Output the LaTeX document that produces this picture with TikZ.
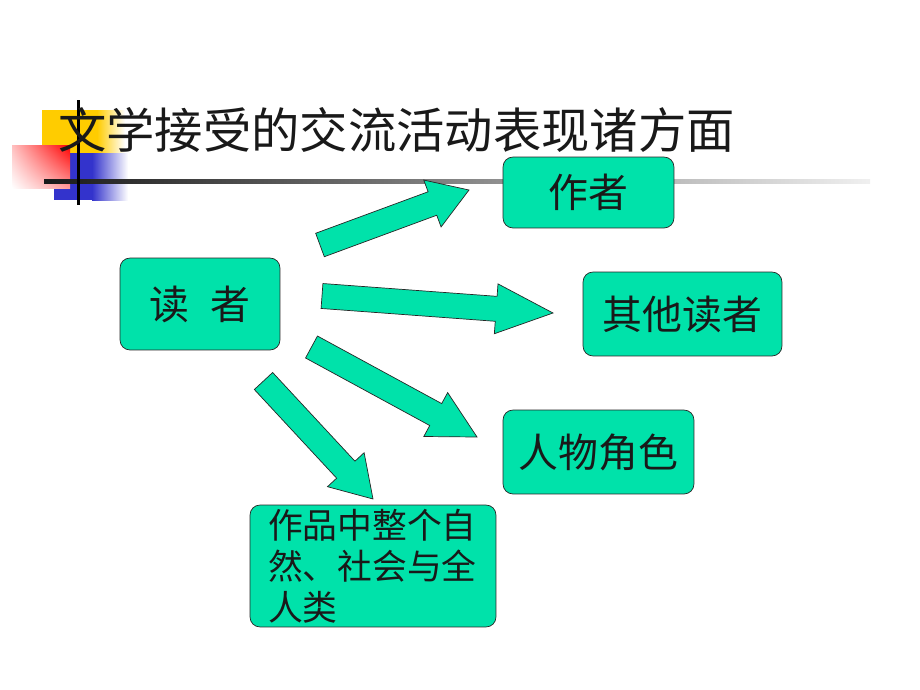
\documentclass[tikz,border=0pt]{standalone}
\usepackage{xcolor}
\definecolor{topicgreen}{RGB}{0,226,170}
\definecolor{deckyellow}{RGB}{255,204,0}
\definecolor{deckred}{RGB}{255,0,0}
\definecolor{deckblue}{RGB}{51,51,204}
\usepackage{fontspec}
\newfontfamily\cjk{Noto Sans CJK SC}
\usepackage{tikz}
\usetikzlibrary{calc}
\usetikzlibrary{shadings}
\newcommand{\shafthalf}{0.25cm}
\newcommand{\headhalf}{0.5cm}
\newcommand{\fatarrow}[3]{%
    \coordinate (hb) at ($(#2)!#3!(#1)$);
    \draw[fat] ($(#1)!\shafthalf!90:(#2)$) -- ($(hb)!\shafthalf!90:(#2)$) -- ($(hb)!\headhalf!90:(#2)$)
        -- (#2) -- ($(hb)!\headhalf!-90:(#2)$) -- ($(hb)!\shafthalf!-90:(#2)$) -- ($(#1)!\shafthalf!-90:(#2)$) -- cycle;
}
\tikzset{
    common/.style={draw=black!85, fill=topicgreen, rounded corners=0.2cm, inner sep=0pt, text=black!90,
        font=\cjk\fontsize{22.7}{27}\selectfont},
    fat/.style={draw=black!85, fill=topicgreen, thin, line join=miter}
}
\begin{document}
\begin{tikzpicture}[x=0.02cm, y=-0.02cm]
    \useasboundingbox (0,0) rectangle (920,690);
    % slide decoration
    \fill[deckyellow] (42,110) rectangle (97,153);
    \shade[left color=deckyellow, right color=white] (97,110) rectangle (125,153);
    \fill[deckblue] (54,153) rectangle (92,200);
    \shade[left color=deckblue, right color=white] (92,153) rectangle (128,200);
    \shade[upper right=deckred, upper left=deckred!25, lower right=deckred!40, lower left=white] (12,145) rectangle (70,188);
    \shade[left color=black!90, middle color=black!30, right color=black!6] (44,179) rectangle (870,183);
    \draw[line width=0.06cm] (78,100) -- (78,205);
    \node[anchor=west, inner sep=0pt, text=black!90, font=\cjk\fontsize{27.5}{33}\selectfont] (title) at (58,130) {文学接受的交流活动表现诸方面};

    \node[common, minimum width=3.2cm, minimum height=1.84cm] (reader) at (200,304) {读\hspace{0.44cm}者};
    \node[common, minimum width=3.42cm, minimum height=1.42cm] (author) at (588.5,192.5) {作者};
    \node[common, minimum width=3.98cm, minimum height=1.68cm] (others) at (682.5,314) {其他读者};
    \node[common, minimum width=3.82cm, minimum height=1.68cm] (roles) at (598.5,452) {人物角色};
    \node[common, minimum width=4.92cm, minimum height=2.44cm, text width=4.2cm, align=left,
        font=\cjk\fontsize{19.8}{23.2}\selectfont] (world) at (373,566) {作品中整个自\\然、社会与全\\人类};

    % block arrows from the reader
    \coordinate (t1) at (320,245);   \coordinate (h1) at (469,190);
    \coordinate (t2) at (322,296);   \coordinate (h2) at (553,313);
    \coordinate (t3) at (311.5,347); \coordinate (h3) at (477,437);
    \coordinate (t4) at (263.5,381); \coordinate (h4) at (373,499);
    \fatarrow{t1}{h1}{0.78cm}
    \fatarrow{t2}{h2}{1.14cm}
    \fatarrow{t3}{h3}{0.94cm}
    \fatarrow{t4}{h4}{0.8cm}
\end{tikzpicture}
\end{document}
